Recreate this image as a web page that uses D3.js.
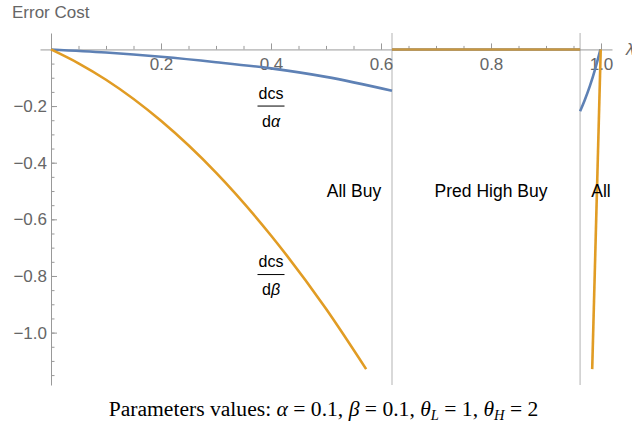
<!DOCTYPE html>
<html>
<head>
<meta charset="utf-8">
<script src="https://cdn.jsdelivr.net/npm/d3@7"></script>
<style>
  body { margin: 0; background: #fff; }
  svg { display: block; font-family: "Liberation Sans", Arial, sans-serif; }
</style>
</head>
<body>
<svg id="chart"></svg>
<script>
// values
const blueLowLambda = [0, 0.1, 0.2, 0.3, 0.4, 0.5, 0.62];
const blueLowCost = [0, -0.011, -0.026, -0.045, -0.067, -0.097, -0.146];
const blueHighLambda = [0.962, 0.97, 0.98, 0.99, 0.999];
const blueHighCost = [-0.218, -0.181, -0.128, -0.065, 0];
const orangeLowLambda = [0, 0.05, 0.1, 0.2, 0.3, 0.4, 0.5, 0.573];
const orangeLowCost = [0, -0.049, -0.107, -0.252, -0.435, -0.657, -0.916, -1.129];
const orangeMidLambda = [0.62, 0.962];
const orangeMidCost = [0, 0];
const orangeHighLambda = [0.984, 0.9995];
const orangeHighCost = [-1.129, 0];

const regionBounds = [0.62, 0.962];
const regionNames = ["All Buy", "Pred High Buy", "All"];
const regionLabelX = [0.551, 0.8, 1.0];

const xTicks = [0.2, 0.4, 0.6, 0.8, 1.0];
const yTicks = [-0.2, -0.4, -0.6, -0.8, -1.0];

const width = 632, height = 423;
const BLUE = "#5e81b5", ORANGE = "#e19c24", AXIS = "#999", LABEL = "#666";

const svg = d3.select("#chart").attr("width", width).attr("height", height);

const x = d3.scaleLinear().domain([-0.02, 1.02]).range([40, 612]);
const y = d3.scaleLinear().domain([0.058, -1.185]).range([33, 385]);

const zip = (xs, ys) => xs.map((v, i) => [v, ys[i]]);

// region boundaries
svg.append("g").selectAll("line")
  .data(regionBounds)
  .enter().append("line")
  .attr("x1", d => x(d)).attr("x2", d => x(d))
  .attr("y1", y.range()[0]).attr("y2", y.range()[1])
  .attr("stroke", "#ccc")
  .attr("stroke-width", 1.5);

// axes
let minorX = d3.range(0.05, 1.001, 0.05);
let minorY = d3.range(-0.05, -1.19, -0.05);

let xMinor = svg.append("g")
  .attr("transform", `translate(0,${y(0)})`)
  .call(d3.axisBottom(x).tickValues(minorX).tickSize(-3.5).tickFormat(""));
let xAxis = svg.append("g")
  .attr("transform", `translate(0,${y(0)})`)
  .call(d3.axisBottom(x).tickValues(xTicks).tickSizeInner(-6).tickSizeOuter(0)
    .tickPadding(9).tickFormat(d3.format(".1f")));
let yMinor = svg.append("g")
  .attr("transform", `translate(${x(0)},0)`)
  .call(d3.axisLeft(y).tickValues(minorY).tickSize(-3.5).tickFormat(""));
let yAxis = svg.append("g")
  .attr("transform", `translate(${x(0)},0)`)
  .call(d3.axisLeft(y).tickValues(yTicks).tickSizeInner(-6).tickSizeOuter(0)
    .tickPadding(4).tickFormat(d3.format(".1f")));

[xMinor, yMinor].forEach(g => g.select(".domain").remove());
[xMinor, xAxis, yMinor, yAxis].forEach(g => {
  g.selectAll("line").attr("stroke", AXIS);
  g.select(".domain").attr("stroke", AXIS);
  g.selectAll("text").attr("fill", LABEL).style("font-size", "17px")
    .style("font-family", "Liberation Sans, Arial, sans-serif");
});

// curves
const line = d3.line().x(d => x(d[0])).y(d => y(d[1])).curve(d3.curveMonotoneX);

let curves = [
  { pts: zip(blueLowLambda, blueLowCost), color: BLUE, op: 1 },
  { pts: zip(blueHighLambda, blueHighCost), color: BLUE, op: 1 },
  { pts: zip(orangeMidLambda, orangeMidCost), color: BLUE, op: 1 },
  { pts: zip(orangeMidLambda, orangeMidCost), color: ORANGE, op: 0.8 },
  { pts: zip(orangeLowLambda, orangeLowCost), color: ORANGE, op: 1 },
  { pts: zip(orangeHighLambda, orangeHighCost), color: ORANGE, op: 1 }
];

svg.append("g").selectAll("path")
  .data(curves)
  .enter().append("path")
  .attr("d", d => line(d.pts))
  .attr("fill", "none")
  .attr("stroke", d => d.color)
  .attr("stroke-opacity", d => d.op)
  .attr("stroke-width", 2.6);

// region names
svg.append("g").selectAll("text")
  .data(regionNames)
  .enter().append("text")
  .attr("x", (d, i) => x(regionLabelX[i]))
  .attr("y", y(-0.5))
  .attr("dy", "0.35em")
  .attr("text-anchor", "middle")
  .style("font-size", "17.5px")
  .text(d => d);

// derivative labels
function fraction(cx, cy, greek) {
  let g = svg.append("g").attr("transform", `translate(${cx},${cy})`);
  g.append("text").attr("y", -7.5).attr("text-anchor", "middle")
    .style("font-size", "16px").text("dcs");
  g.append("line").attr("x1", -13.5).attr("x2", 13.5)
    .attr("stroke", "#000").attr("stroke-width", 1);
  let t = g.append("text").attr("y", 20.5).attr("text-anchor", "middle")
    .style("font-size", "16px");
  t.append("tspan").text("d");
  t.append("tspan").style("font-style", "italic").text(greek);
}
fraction(x(0.4), y(-0.2), "α");
fraction(x(0.4), y(-0.795), "β");

// titles
svg.append("text").attr("x", 12).attr("y", 18)
  .attr("fill", LABEL).style("font-size", "17px").text("Error Cost");
svg.append("text").attr("x", 626).attr("y", 55)
  .attr("fill", LABEL).style("font-size", "17px").style("font-style", "italic").text("λ");

let cap = svg.append("text")
  .attr("x", 323.5).attr("y", 416)
  .attr("text-anchor", "middle")
  .style("font-family", "Liberation Serif, Times New Roman, serif")
  .style("font-size", "21.6px");
cap.append("tspan").text("Parameters values: ");
cap.append("tspan").style("font-style", "italic").text("α");
cap.append("tspan").text(" = 0.1, ");
cap.append("tspan").style("font-style", "italic").text("β");
cap.append("tspan").text(" = 0.1, ");
cap.append("tspan").style("font-style", "italic").text("θ");
cap.append("tspan").style("font-style", "italic").style("font-size", "14.5px").attr("dy", 4).text("L");
cap.append("tspan").attr("dy", -4).text(" = 1, ");
cap.append("tspan").style("font-style", "italic").text("θ");
cap.append("tspan").style("font-style", "italic").style("font-size", "14.5px").attr("dy", 4).text("H");
cap.append("tspan").attr("dy", -4).text(" = 2");
</script>
</body>
</html>
